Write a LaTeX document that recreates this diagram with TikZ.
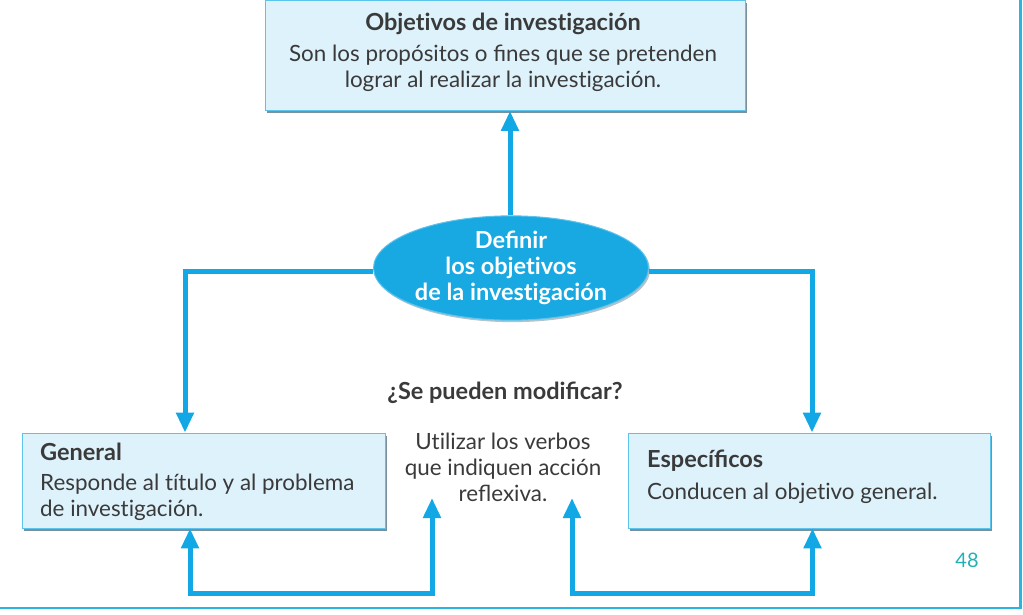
\documentclass[tikz,border=0pt]{standalone}
\usepackage{fontspec}
\setmainfont{Lato}[Ligatures=NoCommon]
\usetikzlibrary{arrows.meta,shapes.geometric,shadows,calc}
\definecolor{arrowblue}{HTML}{12A8E6}
\definecolor{framecyan}{HTML}{2AB4E4}
\definecolor{boxfill}{HTML}{DEF2FB}
\definecolor{boxedge}{HTML}{5CC3EC}
\definecolor{shadowcol}{HTML}{6A8594}
\definecolor{ellfill}{HTML}{19A9E2}
\definecolor{txt}{HTML}{3A3A3A}
\definecolor{pagenum}{HTML}{22B0B4}
\tikzset{
  infobox/.style={rectangle, draw=boxedge, line width=0.8pt, fill=boxfill,
    drop shadow={shadow xshift=2pt, shadow yshift=-2.5pt, fill=shadowcol, opacity=0.9}},
  titletext/.style={font=\fontsize{23.5}{26}\selectfont\bfseries, text=txt, inner sep=0pt},
  bodytext/.style={font=\fontsize{22.4}{26}\selectfont, text=txt, inner sep=0pt},
  conn/.style={draw=arrowblue, line width=5pt},
  tip/.style={-{Triangle[width=17pt,length=20pt]}},
  tips/.style={{Triangle[width=17pt,length=20pt]}-{Triangle[width=17pt,length=20pt]}}
}
\begin{document}
\begin{tikzpicture}[x=1pt,y=-1pt]
\useasboundingbox (0,0) rectangle (1023,614);
% frame
\draw[framecyan, line width=2.5pt] (0,608) -- (1020.5,608) -- (1020.5,0);
% boxes
\node[infobox, minimum width=480pt, minimum height=110pt] (top) at (505,55.5) {};
\node[titletext] (toptitle) at (503,23.5) {Objetivos de investigación};
\node[bodytext, align=center] (topbody) at (503,68.5) {Son los propósitos o ﬁnes que se pretenden\\lograr al realizar la investigación.};

\node[infobox, minimum width=363pt, minimum height=95pt] (gen) at (203.5,480.5) {};
\node[titletext, anchor=west] (gentitle) at (40,452) {General};
\node[bodytext, align=left, anchor=north west] (genbody) at (40,474) {Responde al título y al problema\\de investigación.};

\node[infobox, minimum width=362pt, minimum height=95pt] (esp) at (809,480.5) {};
\node[titletext, anchor=west] (esptitle) at (647,461) {Especíﬁcos};
\node[bodytext, anchor=west] (espbody) at (647,493) {Conducen al objetivo general.};

% ellipse
\node[ellipse, fill=ellfill, draw=ellfill!70!white, line width=1pt, minimum width=275pt, minimum height=100pt,
  drop shadow={shadow xshift=1.5pt, shadow yshift=-2pt, fill=shadowcol, opacity=0.5},
  font=\fontsize{23.5}{26}\selectfont\bfseries, text=white, align=center, inner sep=0pt] (ell) at (511,268)
  {Deﬁnir\\los objetivos\\de la investigación};

% middle texts
\node[titletext] (question) at (505,393) {¿Se pueden modiﬁcar?};
\node[bodytext, align=center] (util) at (503,467) {Utilizar los verbos\\que indiquen acción\\reﬂexiva.};
\coordinate (lt) at (432,498);
\coordinate (rt) at (572,498);

% page number
\node[font=\fontsize{20}{24}\selectfont, text=pagenum, inner sep=0pt] (pnum) at (967,560) {48};

% connectors
\draw[conn, tip] ([xshift=5pt]top.south |- ell.north) -- ([xshift=5pt]top.south);
\draw[conn, tip] ([yshift=-3pt]ell.west) -| ([xshift=-18.5pt]gen.north);
\draw[conn, tip] ([yshift=-3pt]ell.east) -| ([xshift=3pt]esp.north);
\draw[conn, tips] (lt) -- ++(0,95) -| ([xshift=-13.5pt]gen.south);
\draw[conn, tips] (rt) -- ++(0,95) -| ([xshift=3.5pt]esp.south);
\end{tikzpicture}
\end{document}
